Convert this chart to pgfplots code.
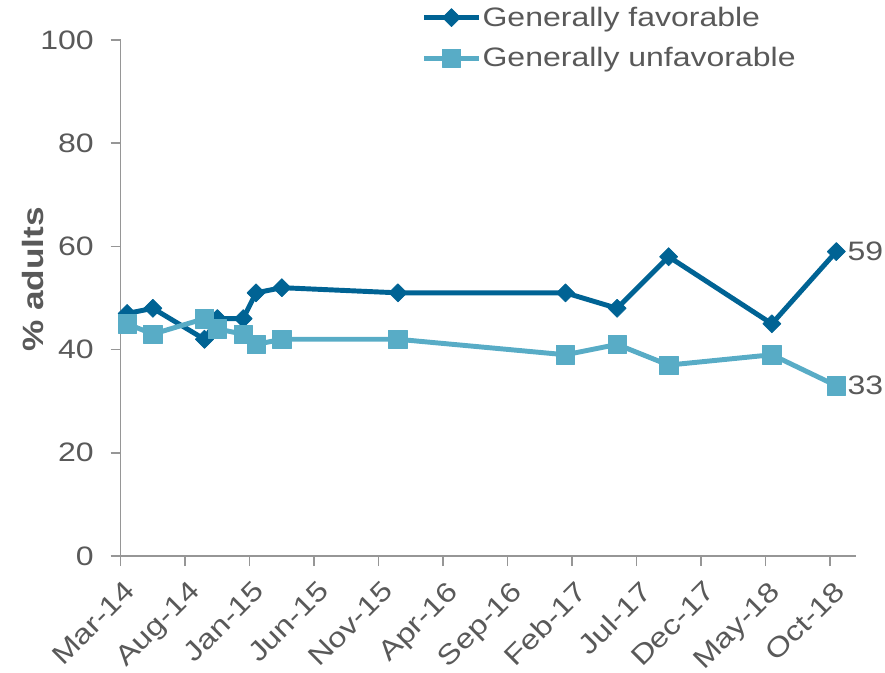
\documentclass[border=0pt]{standalone}
\usepackage{fontspec}
\setmainfont{Liberation Sans}[FakeStretch=1.2]
\usepackage{pgfplots}
\pgfplotsset{compat=1.18}
\definecolor{fav}{RGB}{0,99,148}
\definecolor{unfav}{RGB}{88,172,198}
\definecolor{txt}{RGB}{89,89,89}
\definecolor{axl}{RGB}{150,150,150}
\begin{document}
\begin{tikzpicture}
\begin{axis}[
  scale only axis, width=551.25pt, height=387pt,
  xmin=0, xmax=57, ymin=0, ymax=100,
  clip=false,
  axis x line*=bottom, axis y line*=left,
  axis line style={axl, line width=1.1pt},
  tick style={axl, line width=1.1pt},
  tick align=outside, major tick length=7.5pt,
  xtick={0,5,...,55},
  xticklabels={Mar-14,Aug-14,Jan-15,Jun-15,Nov-15,Apr-16,Sep-16,Feb-17,Jul-17,Dec-17,May-18,Oct-18},
  ytick={0,20,...,100},
  /pgf/number format/assume math mode=true,
  ticklabel style={text=txt},
  xticklabel style={font=\fontsize{20.5}{24}\selectfont, xshift=2pt, yshift=-10pt, rotate=45, anchor=north east, inner sep=0pt},
  yticklabel style={font=\fontsize{20}{24}\selectfont, xshift=-12.5pt, anchor=east, inner sep=0pt},
  ylabel={\% adults},
  every axis y label/.style={at={([xshift=-57.5pt]rel axis cs:0,0.5357)}, rotate=90, anchor=south, inner sep=0pt, font=\bfseries\fontsize{22}{26}\selectfont, text=txt},
  legend style={at={(rel axis cs:0.4095,1.0667)}, anchor=north west, draw=none, fill=none, inner sep=0pt, outer sep=0pt, font=\fontsize{20}{24}\selectfont, text=txt, row sep=12.5pt, nodes={inner sep=1pt}},
  legend cell align=left,
  legend image code/.code={\draw[mark repeat=2,mark phase=2,#1] plot coordinates {(0pt,0pt) (20.5pt,0pt) (41pt,0pt)};},
]
\addplot[fav, line width=3.7pt, line join=round, mark=square*, mark size=4.8pt, mark options={rotate=45, line width=0.5pt, fill=fav}] coordinates {
(0.5,47)(2.5,48)(6.5,42)(7.5,46)(9.5,46)(10.5,51)(12.5,52)(21.5,51)(34.5,51)(38.5,48)(42.5,58)(50.5,45)(55.5,59)};
\addlegendentry{Generally favorable}
\addplot[unfav, line width=3.7pt, line join=round, mark=square*, mark size=6.9pt, mark options={line width=0.5pt, fill=unfav}] coordinates {
(0.5,45)(2.5,43)(6.5,46)(7.5,44)(9.5,43)(10.5,41)(12.5,42)(21.5,42)(34.5,39)(38.5,41)(42.5,37)(50.5,39)(55.5,33)};
\addlegendentry{Generally unfavorable}
\node[anchor=west, inner sep=0pt, xshift=8.25pt, text=txt, font=\fontsize{20}{24}\selectfont] at (axis cs:55.5,59) {59};
\node[anchor=west, inner sep=0pt, xshift=8.25pt, text=txt, font=\fontsize{20}{24}\selectfont] at (axis cs:55.5,33) {33};
\coordinate (O) at (rel axis cs:0,0);
\end{axis}
\pgfresetboundingbox
\path[use as bounding box] ([xshift=-90.5pt, yshift=-87pt]O) rectangle ++(663.75pt,504pt);
\end{tikzpicture}
\end{document}
